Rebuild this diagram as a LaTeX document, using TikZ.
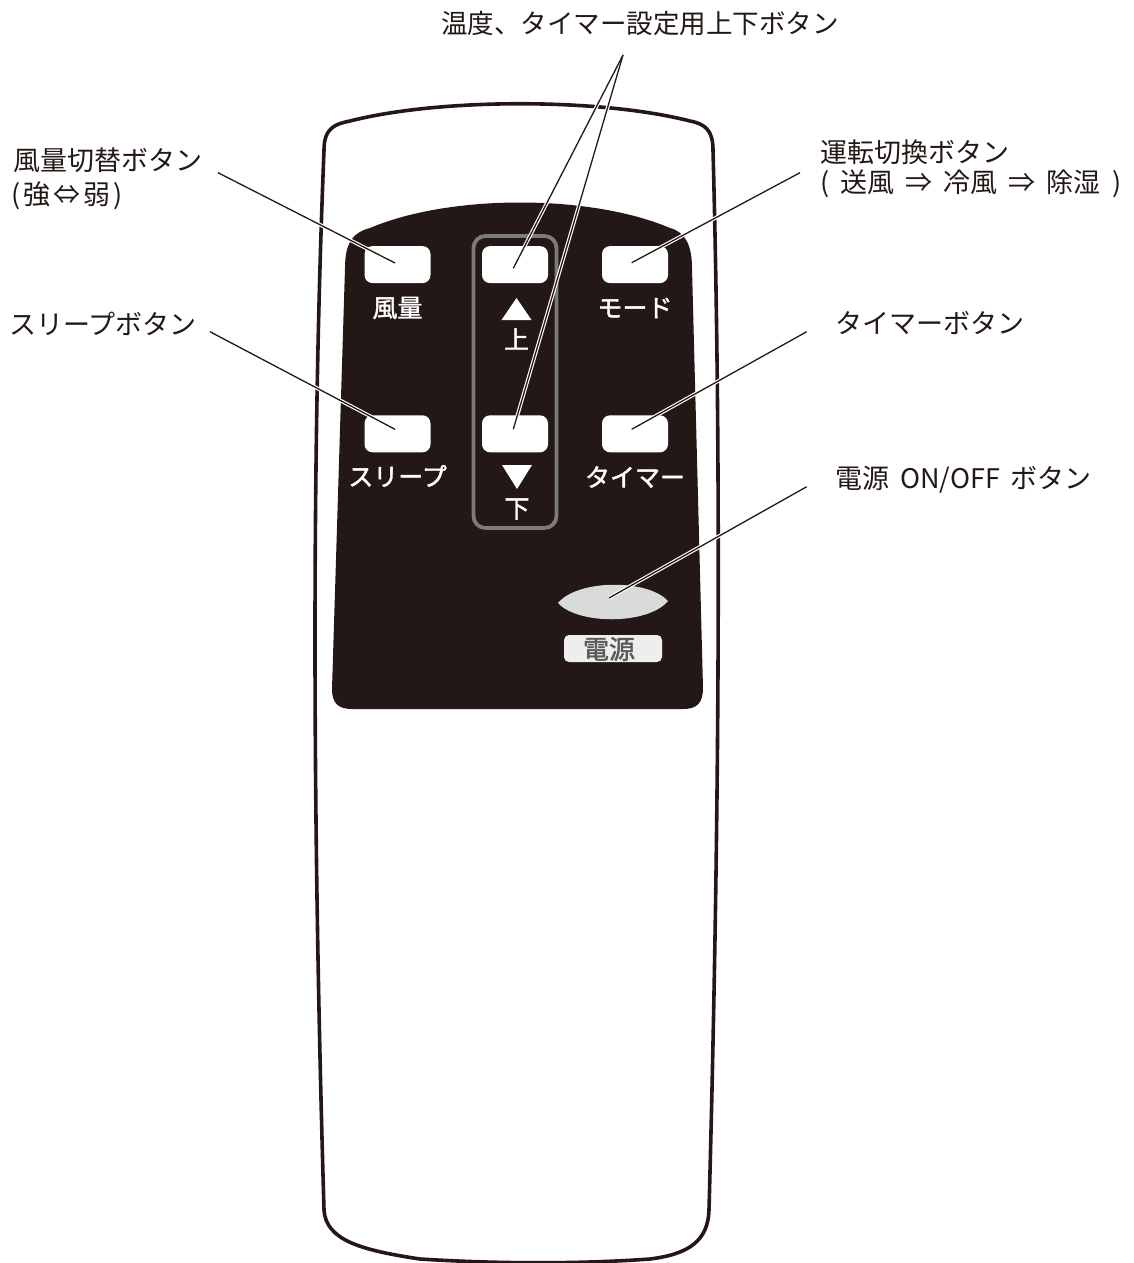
\documentclass[tikz,border=0pt]{standalone}
\usepackage{fontspec}
\setmainfont{Noto Sans CJK JP}
\newfontfamily\panelfont[FakeBold=1.6]{Noto Sans CJK JP}
\usetikzlibrary{calc}
\definecolor{ink}{HTML}{231815}
\definecolor{framegray}{HTML}{7B7B7B}
\definecolor{pwr}{HTML}{D9DBDB}
\definecolor{pwrlbl}{HTML}{EEEEEE}
\definecolor{pwrtxt}{HTML}{595959}
\begin{document}
\begin{tikzpicture}[x=1pt,y=-1pt,
  lbl/.style={font=\fontsize{27}{32}\selectfont, text=ink, inner sep=0pt},
  plbl/.style={font=\panelfont\fontsize{25}{30}\selectfont, text=white, inner sep=0pt},
  btn/.style={fill=white, rounded corners=8pt, minimum width=66pt, minimum height=37pt, inner sep=0pt},
  halo/.style={draw=white, line width=3.6pt},
  lead/.style={draw=ink, line width=1.3pt},
  leadh/.style={lead, preaction={halo}}]
\useasboundingbox (0,0) rectangle (1134,1263);

% remote body
\draw[ink, line width=3.6pt, fill=white]
  (324,150) .. controls (324,128) and (335,124) .. (350,121)
  .. controls (440,98) and (600,98) .. (690,121)
  .. controls (705,124) and (713,130) .. (713,150)
  .. controls (721,450) and (720,800) .. (709,1210)
  .. controls (708,1240) and (690,1254) .. (650,1259)
  .. controls (580,1264) and (500,1264) .. (420,1259)
  .. controls (360,1250) and (326,1240) .. (324,1210)
  .. controls (312,800) and (312,450) .. (324,150) -- cycle;

% dark panel
\fill[ink] (345,268) .. controls (345,240) and (355,232) .. (370,228)
  .. controls (450,194) and (590,194) .. (670,228)
  .. controls (685,232) and (692,245) .. (692,268)
  -- (703,688) .. controls (703,703) and (697,709) .. (683,709)
  -- (352,709) .. controls (338,709) and (332,703) .. (332,689) -- cycle;

% up/down frame
\draw[framegray, line width=3.8pt, rounded corners=12pt] (473.5,236) rectangle (556.5,528);

% buttons
\node[btn] (bFan)   at (397.5,264.6) {};
\node[btn] (bUp)    at (515,264.6) {};
\node[btn] (bMode)  at (635,264.6) {};
\node[btn] (bSleep) at (397.5,433.8) {};
\node[btn] (bDown)  at (515,433.8) {};
\node[btn] (bTimer) at (635,433.8) {};

% panel labels
\node[plbl] (pFan)   at (397.5,308) {風量};
\node[plbl] (pMode)  at (635,308) {モード};
\node[plbl] (pSleep) at (397.5,476) {スリープ};
\node[plbl] (pTimer) at (635,477) {タイマー};
\node[plbl] (pUp)    at (516.5,339) {上};
\node[plbl] (pDown)  at (517,509) {下};
\fill[white] (501.5,320) -- (531.5,320) -- (516.5,298) -- cycle;
\fill[white] (502,465) -- (532,465) -- (517,489) -- cycle;

% power button
\fill[pwr] (558,603) .. controls (578,579) and (648,579) .. (668,601)
  .. controls (648,625) and (578,625) .. (558,603) -- cycle;
\coordinate (bPwr) at (609,598);
\node[fill=pwrlbl, rounded corners=5pt, minimum width=98pt, minimum height=27pt, inner sep=0pt] (pwrBox) at (613,648.5) {};
\node[font=\panelfont\fontsize{26}{30}\selectfont, text=pwrtxt, inner sep=0pt] (pwrTxt) at (609,649) {電源};

% outside labels
\node[lbl, font=\fontsize{26.5}{30}\selectfont] (tTemp) at (640,23) {温度、タイマー設定用上下ボタン};
\node[lbl, anchor=west] (tFan1) at (13,160) {風量切替ボタン};
\node[lbl, anchor=west] (tFan2) at (11,196) {(\hspace{3pt}強\hspace{3pt}⇔\hspace{3pt}弱\hspace{3pt})};
\node[lbl, anchor=west] (tSleep) at (9,323.5) {スリープボタン};
\node[lbl, anchor=west] (tMode1) at (820,152) {運転切換ボタン};
\node[lbl, anchor=west] (tMode2) at (820,184) {(\hspace{11pt}送風\hspace{11pt}⇒\hspace{11pt}冷風\hspace{11pt}⇒\hspace{11pt}除湿\hspace{12pt})};
\node[lbl, anchor=west] (tTimer) at (835,323.5) {タイマーボタン};
\node[lbl, anchor=west] (tPwr) at (835,480) {電源\hspace{11pt}ON/OFF\hspace{11pt}ボタン};

% leader coordinates
\coordinate (sFan) at (218,172.7);
\coordinate (eFan) at (395,263);
\coordinate (sSleep) at (210,331.7);
\coordinate (eSleep) at (395,429.3);
\coordinate (sMode) at (800,172.7);
\coordinate (eMode) at (631.7,262.7);
\coordinate (sTimer) at (806.7,331.7);
\coordinate (eTimer) at (631.7,429.3);
\coordinate (sPwr) at (806.7,486.7);
\coordinate (apex) at (623,55);
\coordinate (eUp) at (513.3,268.3);
\coordinate (eDown) at (513.3,429.3);

% leaders
\draw[leadh] (sFan) -- (eFan);
\draw[leadh] (sSleep) -- (eSleep);
\draw[leadh] (sMode) -- (eMode);
\draw[leadh] (sTimer) -- (eTimer);
\draw[leadh] (sPwr) -- (bPwr);
\draw[halo] (apex) -- (eUp);
\draw[halo] (apex) -- (eDown);
\draw[lead] (apex) -- (eUp);
\draw[lead] (apex) -- (eDown);
\end{tikzpicture}
\end{document}
